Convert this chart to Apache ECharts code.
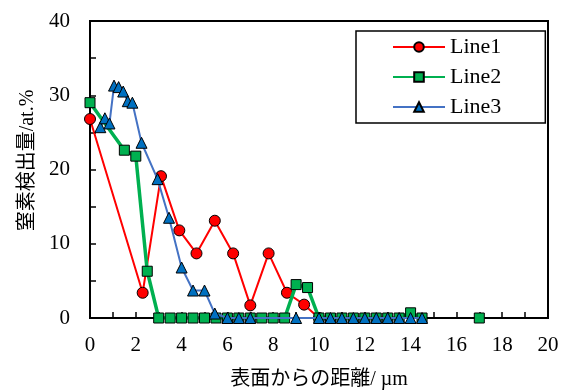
<!DOCTYPE html>
<html>
<head>
<meta charset="utf-8">
<script src="https://cdn.jsdelivr.net/npm/echarts@6/dist/echarts.min.js"></script>
<style>
html,body{margin:0;padding:0;background:#fff;}
#chart{width:571px;height:392px;}
</style>
</head>
<body>
<div id="chart"></div>
<script>
var seriesNames = ['Line1', 'Line2', 'Line3'];
var xTickLabels = ['0','2','4','6','8','10','12','14','16','18','20'];
var yTickLabels = ['0','10','20','30','40'];
var xAxisTitle = '表面からの距離/ µm';
var yAxisTitle = '窒素検出量/at.%';

var line1X = [0, 2.3, 3.1, 3.9, 4.65, 5.45, 6.25, 7.0, 7.8, 8.6, 9.35, 10.0];
var line1Y = [26.8, 3.4, 19.1, 11.8, 8.7, 13.1, 8.7, 1.7, 8.7, 3.4, 1.8, 0];

var line2X = [0, 1.5, 2.0, 2.5, 3.0, 3.5, 4.0, 4.5, 5.0, 5.5, 6.0, 6.5, 7.0, 7.5, 8.0, 8.5, 9.0, 9.5, 10.0, 10.5, 11.0, 11.5, 12.0, 12.5, 13.0, 13.5, 14.0, 14.5, 15.5, 17.0];
var line2Y = [29.0, 22.6, 21.8, 6.3, 0, 0, 0, 0, 0, 0, 0, 0, 0, 0, 0, 0, 4.5, 4.1, 0, 0, 0, 0, 0, 0, 0, 0, 0.7, 0, null, 0];

var line3X = [0.45, 0.65, 0.85, 1.05, 1.25, 1.45, 1.65, 1.85, 2.25, 2.95, 3.45, 4.0, 4.5, 5.0, 5.45, 6.0, 6.5, 7.0, 9.0, 10.0, 10.5, 11.0, 11.5, 12.0, 12.5, 13.0, 13.5, 14.0, 14.5];
var line3Y = [25.7, 26.9, 26.2, 31.3, 31.1, 30.5, 29.2, 29.0, 23.6, 18.7, 13.5, 6.8, 3.7, 3.7, 0.6, 0, 0, 0, 0, 0, 0, 0, 0, 0, 0, 0, 0, 0, 0];

function pairs(xs, ys) {
  return xs.map(function (x, i) { return [x, ys[i]]; });
}

var FONT = "'Liberation Serif', 'Times New Roman', 'Noto Sans CJK JP', serif";
var chart = echarts.init(document.getElementById('chart'), null, {renderer: 'canvas'});

chart.setOption({
  animation: false,
  backgroundColor: '#fff',
  textStyle: {fontFamily: FONT, color: '#000'},
  grid: {left: 90, right: 23, top: 21, bottom: 74, show: true, borderColor: '#000', borderWidth: 2,
    backgroundColor: 'transparent', containLabel: false, outerBoundsMode: 'none'},
  legend: {
    orient: 'vertical',
    left: 356, top: 31,
    data: seriesNames,
    borderColor: '#000', borderWidth: 1.5,
    padding: [5, 44, 5, 36],
    itemWidth: 52, itemHeight: 12, itemGap: 8,
    textStyle: {fontFamily: FONT, fontSize: 22, color: '#000', lineHeight: 22}
  },
  xAxis: {
    type: 'value', min: 0, max: 20, interval: 2,
    name: xAxisTitle, nameLocation: 'middle', nameGap: 52,
    nameTextStyle: {fontFamily: FONT, fontSize: 20, color: '#000'},
    axisLine: {show: true, onZero: false, lineStyle: {color: '#000', width: 2}},
    axisTick: {show: true, inside: true, length: 6, lineStyle: {color: '#000', width: 1.5}},
    minorTick: {show: true, splitNumber: 2, length: 6, lineStyle: {color: '#000', width: 1.5}},
    splitLine: {show: false},
    axisLabel: {fontFamily: FONT, fontSize: 21, color: '#000', margin: 17,
      formatter: function (v) { var i = xTickLabels.indexOf(String(v)); return i >= 0 ? xTickLabels[i] : ''; }}
  },
  yAxis: {
    type: 'value', min: 0, max: 40, interval: 10,
    name: yAxisTitle, nameLocation: 'middle', nameGap: 44, nameRotate: 90,
    nameTextStyle: {fontFamily: FONT, fontSize: 20, color: '#000', padding: [0, 0, 0, 18]},
    axisLine: {show: true, onZero: false, lineStyle: {color: '#000', width: 2}},
    axisTick: {show: true, inside: true, length: 6, lineStyle: {color: '#000', width: 1.5}},
    minorTick: {show: true, splitNumber: 2, length: 6, lineStyle: {color: '#000', width: 1.5}},
    splitLine: {show: false},
    axisLabel: {fontFamily: FONT, fontSize: 21, color: '#000', margin: 20,
      formatter: function (v) { var i = yTickLabels.indexOf(String(v)); return i >= 0 ? yTickLabels[i] : ''; }}
  },
  series: [
    {
      name: seriesNames[0], type: 'line', data: pairs(line1X, line1Y),
      symbol: 'circle', symbolSize: 11,
      lineStyle: {color: '#FF0000', width: 2},
      itemStyle: {color: '#FF0000', borderColor: '#000', borderWidth: 1},
      z: 2
    },
    {
      name: seriesNames[1], type: 'line', data: pairs(line2X, line2Y),
      symbol: 'rect', symbolSize: 10, connectNulls: false,
      lineStyle: {color: '#00B050', width: 3.5},
      itemStyle: {color: '#00B050', borderColor: '#000', borderWidth: 1},
      z: 3
    },
    {
      name: seriesNames[2], type: 'line', data: pairs(line3X, line3Y),
      symbol: 'triangle', symbolSize: 11,
      lineStyle: {color: '#4472C4', width: 2},
      itemStyle: {color: '#0070C0', borderColor: '#000', borderWidth: 1},
      z: 4
    }
  ]
});
</script>
</body>
</html>
